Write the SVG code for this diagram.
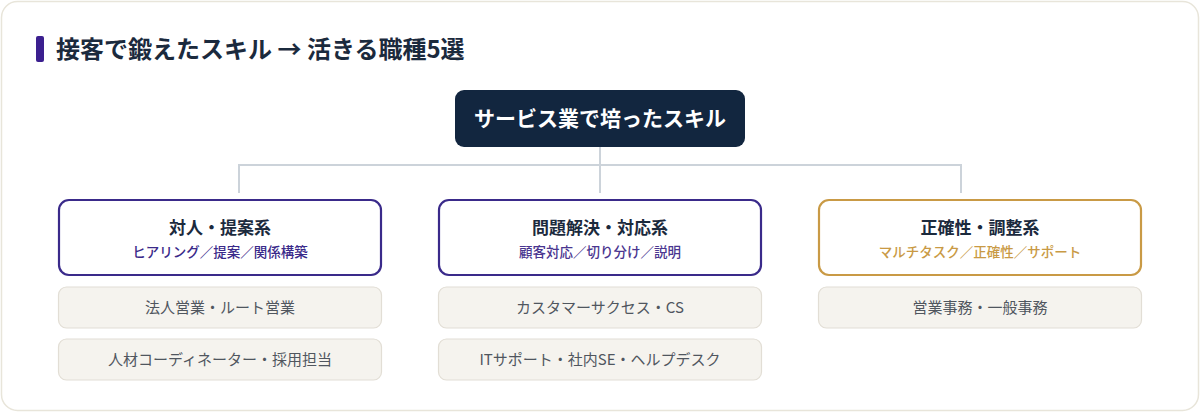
<svg xmlns="http://www.w3.org/2000/svg" width="1200" height="412" viewBox="0 0 1200 412">
<style>
text{font-family:"Noto Sans CJK JP","Noto Sans",sans-serif;text-anchor:middle}
.title{font-size:24px;font-weight:700;fill:#1b2a3d;text-anchor:start}
.root{font-size:21px;font-weight:700;fill:#ffffff}
.cat{fill:#ffffff;stroke-width:2.2}
.purple{stroke:#3a2a8a}
.gold{stroke:#c99a45}
.ctitle{font-size:17px;font-weight:700;fill:#1b2a3d}
.csub{font-size:13.5px;font-weight:500}
.job{fill:#f5f3ee;stroke:#e2ded5;stroke-width:1.2}
.jtext{font-size:15px;fill:#50565e}
.conn{stroke:#ccd3da;stroke-width:2;fill:none}
</style>
<rect x="1.5" y="1.5" width="1197" height="409" rx="16" fill="#ffffff" stroke="#e8e5da" stroke-width="1.5"/>
<g id="heading">
<rect x="36" y="36" width="8" height="26" rx="2" fill="#3b1f8f"/>
<text class="title" x="56" y="58">接客で鍛えたスキル → 活きる職種5選</text>
</g>
<g id="connectors">
<path class="conn" d="M600 147V165M239 165H961M239 164V193M600 165V193M961 164V193"/>
</g>
<g id="root">
<rect x="455" y="90" width="290" height="57" rx="9" fill="#12263f"/>
<text class="root" x="600" y="126">サービス業で培ったスキル</text>
</g>
<g id="cat1">
<rect class="cat purple" x="59" y="200" width="322" height="75" rx="10"/>
<text class="ctitle" x="220" y="234">対人・提案系</text>
<text class="csub" x="220" y="257" fill="#3a2a8a">ヒアリング／提案／関係構築</text>
</g>
<g id="cat2">
<rect class="cat purple" x="439" y="200" width="322" height="75" rx="10"/>
<text class="ctitle" x="600" y="234">問題解決・対応系</text>
<text class="csub" x="600" y="257" fill="#4a3690">顧客対応／切り分け／説明</text>
</g>
<g id="cat3">
<rect class="cat gold" x="819" y="200" width="322" height="75" rx="10"/>
<text class="ctitle" x="980" y="234">正確性・調整系</text>
<text class="csub" x="980" y="257" fill="#c99a45">マルチタスク／正確性／サポート</text>
</g>
<g id="job1">
<rect class="job" x="58.5" y="287" width="323" height="41" rx="8"/>
<text class="jtext" x="220" y="313">法人営業・ルート営業</text>
</g>
<g id="job2">
<rect class="job" x="58.5" y="339" width="323" height="41" rx="8"/>
<text class="jtext" x="220" y="365">人材コーディネーター・採用担当</text>
</g>
<g id="job3">
<rect class="job" x="438.5" y="287" width="323" height="41" rx="8"/>
<text class="jtext" x="600" y="313">カスタマーサクセス・CS</text>
</g>
<g id="job4">
<rect class="job" x="438.5" y="339" width="323" height="41" rx="8"/>
<text class="jtext" x="600" y="365">ITサポート・社内SE・ヘルプデスク</text>
</g>
<g id="job5">
<rect class="job" x="818.5" y="287" width="323" height="41" rx="8"/>
<text class="jtext" x="980" y="313">営業事務・一般事務</text>
</g>
</svg>
